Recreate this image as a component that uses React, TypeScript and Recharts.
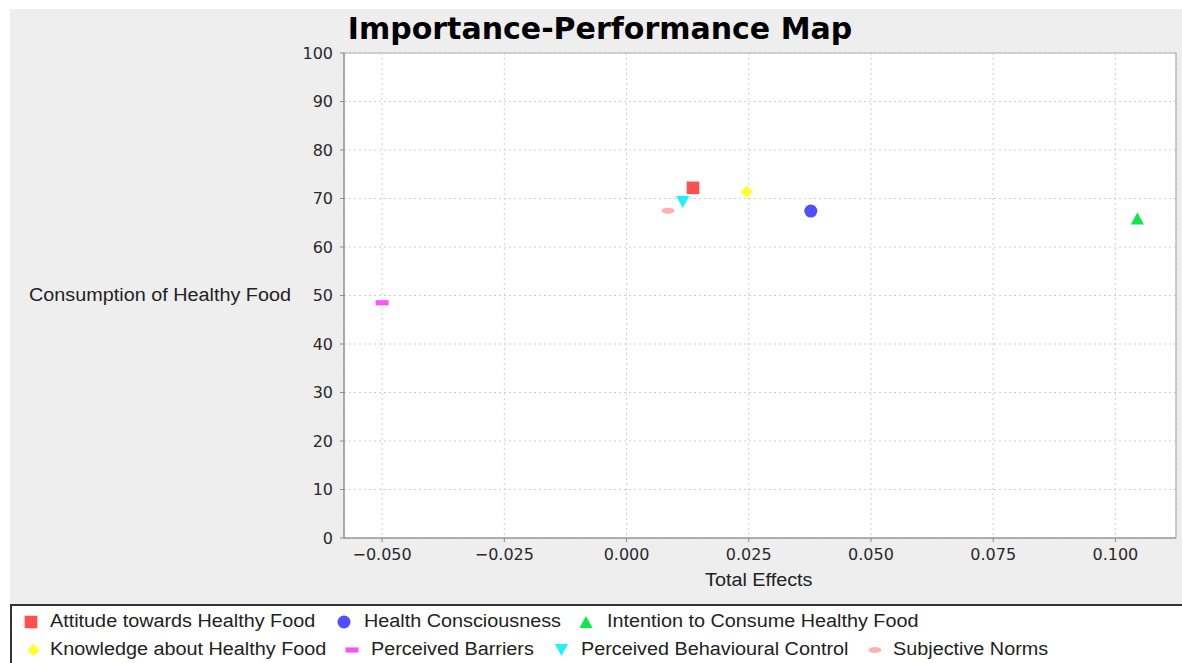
import React from "react";
import {
  ScatterChart,
  Scatter,
  XAxis,
  YAxis,
  CartesianGrid,
  ReferenceArea,
} from "recharts";

// ---- data ----
const seriesNames = [
  "Attitude towards Healthy Food",
  "Health Consciousness",
  "Intention to Consume Healthy Food",
  "Knowledge about Healthy Food",
  "Perceived Barriers",
  "Perceived Behavioural Control",
  "Subjective Norms",
];
const totalEffects = [0.0136, 0.0377, 0.1045, 0.0246, -0.05, 0.0115, 0.0085];
const performance = [72.2, 67.4, 65.9, 71.4, 48.5, 69.3, 67.5];
const xTicks = [-0.05, -0.025, 0, 0.025, 0.05, 0.075, 0.1];
const yTicks = [0, 10, 20, 30, 40, 50, 60, 70, 80, 90, 100];
const chartTitle = "Importance-Performance Map";
const xLabel = "Total Effects";
const yLabel = "Consumption of Healthy Food";

// ---- styles ----
const markerKinds = ["square", "circle", "triangle", "diamond", "hbar", "down", "ellipse"];
const colors = ["#ff4f4f", "#4f4fff", "#10e84a", "#ffff30", "#ff4fff", "#20f0ff", "#ffb0b0"];
const X_DOMAIN: [number, number] = [-0.0578, 0.1124];

function Marker({ kind, cx, cy, color }: { kind: string; cx: number; cy: number; color: string }) {
  switch (kind) {
    case "square":
      return <rect x={cx - 6.3} y={cy - 6.3} width={12.6} height={12.6} fill={color} />;
    case "circle":
      return <circle cx={cx} cy={cy} r={6.5} fill={color} />;
    case "triangle":
      return (
        <polygon
          points={`${cx},${cy - 6} ${cx + 6.6},${cy + 6} ${cx - 6.6},${cy + 6}`}
          fill={color}
        />
      );
    case "diamond":
      return (
        <polygon
          points={`${cx},${cy - 6.2} ${cx + 6.2},${cy} ${cx},${cy + 6.2} ${cx - 6.2},${cy}`}
          fill={color}
        />
      );
    case "hbar":
      return <rect x={cx - 6.5} y={cy - 2.6} width={13} height={5.2} fill={color} />;
    case "down":
      return (
        <polygon
          points={`${cx - 6.6},${cy - 6} ${cx + 6.6},${cy - 6} ${cx},${cy + 6}`}
          fill={color}
        />
      );
    case "ellipse":
      return <ellipse cx={cx} cy={cy} rx={6.5} ry={3} fill={color} />;
    default:
      return null;
  }
}

const seriesData = seriesNames.map((name, i) => ({
  name,
  kind: markerKinds[i],
  color: colors[i],
  points: [{ x: totalEffects[i], y: performance[i] }],
}));

// legend layout (page coordinates): [marker center x, text left x], by row
const legendRows = [
  [0, 1, 2],
  [3, 4, 5, 6],
];
const legendLayout: Record<number, [number, number]> = {
  0: [31, 50],
  1: [344, 364],
  2: [586, 607],
  3: [33.5, 50],
  4: [352, 371],
  5: [561.5, 581],
  6: [875, 893],
};
const rowTextTop = [612, 640];
const rowMarkerY = [622, 650];

const labelFont: React.CSSProperties = {
  fontFamily: "'Liberation Sans', Arial, sans-serif",
  fontSize: 18,
  lineHeight: "18px",
  color: "#222",
  whiteSpace: "nowrap",
  transform: "scaleX(1.1)",
  transformOrigin: "left center",
  position: "absolute",
};

const fmtX = (v: number) => {
  const s = Math.abs(v).toFixed(3);
  return v < 0 ? "\u2212" + s : s;
};

export default function App() {
  const tickStyle = { fill: "#2a2a2a", fontSize: 16, fontFamily: "'DejaVu Sans', sans-serif" };
  return (
    <div
      style={{
        position: "absolute",
        left: 0,
        top: 0,
        width: 1182,
        height: 663,
        background: "#fff",
        overflow: "hidden",
      }}
    >
      <div
        style={{
          position: "absolute",
          left: 10,
          top: 9,
          width: 1172,
          height: 600,
          background: "#eeeeee",
        }}
      />
      <div style={{ position: "absolute", left: 10, top: 9 }}>
        <ScatterChart
          width={1172}
          height={596}
          margin={{ top: 44, right: 6, bottom: 0, left: 0 }}
        >
          <CartesianGrid fill="#ffffff" stroke="#cfcfcf" strokeDasharray="2 3" />
          <XAxis
            type="number"
            dataKey="x"
            domain={X_DOMAIN}
            ticks={xTicks}
            allowDataOverflow
            height={67}
            tickSize={4}
            tickMargin={7}
            tickFormatter={fmtX}
            tick={tickStyle}
            stroke="#8c8c8c"
            interval={0}
          />
          <YAxis
            type="number"
            dataKey="y"
            domain={[0, 100]}
            ticks={yTicks}
            allowDataOverflow
            width={334}
            tickSize={4}
            tickMargin={7}
            tick={tickStyle}
            stroke="#8c8c8c"
            interval={0}
          />
          <ReferenceArea
            x1={X_DOMAIN[0]}
            x2={X_DOMAIN[1]}
            y1={0}
            y2={100}
            fill="none"
            fillOpacity={0}
            stroke="#b0b0b0"
            strokeWidth={1.2}
            ifOverflow="extendDomain"
          />
          {seriesData.map((s) => (
            <Scatter
              key={s.name}
              name={s.name}
              data={s.points}
              fill={s.color}
              isAnimationActive={false}
              shape={(p: any) => <Marker kind={s.kind} cx={p.cx} cy={p.cy} color={s.color} />}
            />
          ))}
        </ScatterChart>
      </div>

      {/* title */}
      <div
        style={{
          position: "absolute",
          left: 0,
          top: 13.5,
          width: 1200,
          textAlign: "center",
          fontFamily: "'DejaVu Sans', sans-serif",
          fontWeight: "bold",
          fontSize: 30,
          lineHeight: "30px",
          color: "#000",
          whiteSpace: "nowrap",
        }}
      >
        {chartTitle}
      </div>

      {/* y label */}
      <div style={{ ...labelFont, left: 29, top: 286 }}>{yLabel}</div>
      {/* x label */}
      <div style={{ ...labelFont, left: 705, top: 571 }}>{xLabel}</div>

      {/* legend box */}
      <div
        style={{
          position: "absolute",
          left: 10,
          top: 604,
          width: 1200,
          height: 80,
          background: "#fff",
          borderTop: "2px solid #333",
          borderLeft: "2px solid #333",
          boxSizing: "border-box",
        }}
      />
      <svg
        style={{ position: "absolute", left: 0, top: 0 }}
        width={1182}
        height={663}
        pointerEvents="none"
      >
        {legendRows.map((row, r) =>
          row.map((i) => (
            <Marker
              key={i}
              kind={markerKinds[i]}
              cx={legendLayout[i][0]}
              cy={rowMarkerY[r]}
              color={colors[i]}
            />
          ))
        )}
      </svg>
      {legendRows.map((row, r) =>
        row.map((i) => (
          <div key={"t" + i} style={{ ...labelFont, left: legendLayout[i][1], top: rowTextTop[r] }}>
            {seriesNames[i]}
          </div>
        ))
      )}
    </div>
  );
}
